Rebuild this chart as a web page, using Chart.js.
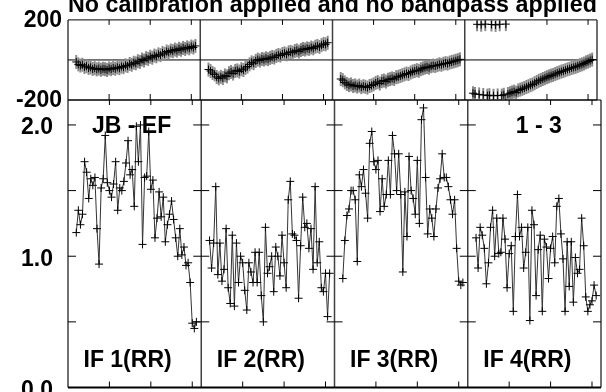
<!DOCTYPE html>
<html><head><meta charset="utf-8">
<script src="https://cdn.jsdelivr.net/npm/chart.js@4.4.1/dist/chart.umd.min.js"></script>
<style>
html,body{margin:0;padding:0;background:#fff;overflow:hidden;width:606px;height:392px;}
#wrap{position:relative;width:606px;height:392px;overflow:hidden;background:#fff;}
canvas{position:absolute;left:0;}
#ph{top:-12px;}
#am{top:88px;}
</style></head><body><div id="wrap">
<canvas id="ph" width="606" height="126"></canvas>
<canvas id="am" width="606" height="314"></canvas>
</div>
<script>
// ---------- data ----------
const titleText = 'No calibration applied and no bandpass applied';
const baselineLabel = 'JB - EF';
const sourceLabel = '1 - 3';
const ifLabels = ['IF 1(RR)', 'IF 2(RR)', 'IF 3(RR)', 'IF 4(RR)'];
const channels = [4,5,6,7,8,9,10,11,12,13,14,15,16,17,18,19,20,21,22,23,24,25,26,27,28,29,30,31,32,33,
  34,35,36,37,38,39,40,41,42,43,44,45,46,47,48,49,50,51,52,53,54,55,56,57,58,59,60,61,62];
const channelTicks = [20, 40, 60];
const phaseTicks = [-200, 200];
const ampTicks = [0, 1, 2];
const ampMinorTicks = [0.5, 1, 1.5, 2];

const ampIF1 = [1.18,1.35,1.24,1.32,1.72,1.64,1.44,1.59,1.54,1.60,
  1.21,0.94,1.52,1.59,1.92,1.56,1.50,1.45,1.55,1.72,
  1.35,1.52,1.50,1.57,1.71,1.88,1.62,1.66,1.38,1.99,
  1.72,2.00,1.09,1.60,1.61,1.95,1.51,1.58,1.14,1.29,
  1.49,1.30,1.45,1.11,1.24,1.32,1.42,1.28,1.14,1.00,
  1.21,1.01,1.07,0.93,0.95,0.80,0.49,0.45,0.50];
const ampIF2 = [1.12,0.91,1.10,1.53,0.86,1.10,0.81,0.90,1.21,0.76,
  0.64,1.16,0.62,1.10,0.80,1.00,0.95,0.74,0.59,0.95,
  0.88,0.80,1.03,0.80,1.03,0.70,0.50,1.22,0.87,0.92,
  1.00,0.73,1.07,1.00,0.85,1.16,0.95,0.76,1.43,1.57,
  1.17,1.16,1.12,0.68,1.08,1.45,1.22,1.25,1.06,1.21,
  0.90,1.53,0.95,1.11,0.76,0.73,0.87,0.54,0.87];
const ampIF3 = [0.83,1.12,1.31,1.36,1.50,1.50,1.43,0.96,1.62,1.53,
  1.66,1.48,1.29,1.86,1.95,1.72,1.66,1.73,1.34,1.59,
  1.38,1.47,1.73,1.47,1.92,1.78,1.50,1.78,1.47,0.88,
  1.49,1.15,1.76,1.50,1.44,1.32,1.73,1.25,2.04,2.13,
  1.60,1.17,1.36,1.29,1.15,1.36,1.52,1.59,1.78,1.60,
  1.60,1.53,1.43,1.32,1.43,1.06,0.81,0.78,0.80];
const ampIF4 = [1.14,0.91,1.22,1.16,1.06,0.79,0.95,1.22,1.35,1.00,
  1.29,1.02,1.03,1.29,1.13,0.76,1.02,1.08,0.58,1.15,
  1.47,1.15,1.22,0.91,1.03,1.22,0.51,1.35,1.24,0.70,
  1.05,1.16,0.58,1.13,1.07,0.83,1.06,1.15,0.95,1.38,
  1.44,1.17,0.98,0.58,1.11,0.77,1.11,0.65,0.99,0.87,
  0.90,1.29,1.08,0.69,0.58,0.63,0.66,0.78,0.70];

const phIF1 = [-10,-22,-28,-24,-35,-31,-40,-37,-45,-41,
  -47,-43,-49,-44,-46,-50,-42,-46,-40,-44,
  -37,-41,-33,-36,-27,-30,-20,-24,-14,-17,
  -6,-10,2,-3,9,5,16,11,22,18,
  28,24,35,30,42,38,47,44,52,47,
  56,51,60,55,63,58,67,62,70];
const phIF2 = [-48,-55,-65,-72,-85,-92,-84,-90,-77,-82,
  -66,-60,-68,-55,-52,-58,-46,-50,-40,-33,
  -22,-12,-16,-5,2,-3,5,2,8,4,
  10,15,12,20,25,22,30,33,28,38,
  40,36,45,48,42,50,55,52,58,55,
  62,58,66,70,65,74,80,78,86];
const phIF3 = [-95,-101,-112,-120,-126,-122,-130,-127,-133,-128,
  -136,-131,-134,-138,-130,-127,-122,-115,-110,-118,
  -106,-103,-108,-99,-96,-92,-95,-86,-84,-80,
  -76,-72,-68,-70,-63,-58,-55,-51,-54,-46,
  -42,-38,-35,-39,-31,-28,-30,-26,-22,-24,
  -19,-16,-18,-13,-10,-7,-4,-1,3];
const phIF4 = [-166,-170,178,-172,176,-175,179,-178,-176,177,
  -179,175,-177,178,-178,-174,179,-170,-166,-162,
  -158,-163,-152,-148,-144,-140,-135,-131,-126,-122,
  -116,-110,-104,-100,-95,-91,-86,-82,-78,-75,
  -70,-66,-62,-58,-55,-51,-47,-44,-40,-37,
  -34,-30,-26,-22,-18,-12,-8,-3,2];

// ---------- layout / style ----------
const P = 64.35; // channel units spanned by one IF panel
const ampSeries = [ampIF1, ampIF2, ampIF3, ampIF4];
const phSeries = [phIF1, phIF2, phIF3, phIF4];
const FONT = '"Liberation Sans", Arial, Helvetica, sans-serif';
const lblFont = {family: FONT, size: 23, weight: 'bold', lineHeight: 1};

function pts(arr, i) { return channels.map((c, k) => ({x: i * P + c, y: arr[k]})); }

function line(ctx, x1, y1, x2, y2) { ctx.beginPath(); ctx.moveTo(x1, y1); ctx.lineTo(x2, y2); ctx.stroke(); }

const framePlugin = {
  id: 'frame',
  beforeDatasetsDraw(chart, args, opts) {
    const ctx = chart.ctx, a = chart.chartArea, x = chart.scales.x, y = chart.scales.y;
    ctx.save();
    ctx.lineCap = 'butt';
    ctx.strokeStyle = '#404040'; ctx.lineWidth = 1.5;
    for (let i = 0; i <= 4; i++) { const px = x.getPixelForValue(i * P); line(ctx, px, a.top, px, a.bottom); }
    ctx.strokeStyle = '#000'; ctx.lineWidth = 1;
    line(ctx, a.left, a.top, a.right, a.top);
    ctx.lineWidth = opts.bottomWidth || 1;
    line(ctx, a.left, a.bottom, a.right, a.bottom);
    ctx.lineWidth = 1;
    if (opts.zero) { const py = y.getPixelForValue(0); line(ctx, a.left, py, a.right, py); }
    for (let i = 0; i < 4; i++) {
      for (const c of channelTicks) {
        const px = x.getPixelForValue(i * P + c);
        line(ctx, px, a.top, px, a.top + 5);
        line(ctx, px, a.bottom, px, a.bottom - 6);
      }
    }
    for (const v of (opts.yTicks || [])) {
      const py = y.getPixelForValue(v);
      for (let i = 0; i <= 4; i++) {
        const px = x.getPixelForValue(i * P);
        if (i < 4) line(ctx, px, py, px + 8, py);
        if (i > 0) line(ctx, px - 8, py, px, py);
      }
    }
    ctx.restore();
  },
  afterDatasetsDraw(chart, args, opts) {
    if (!opts.labels) return;
    const ctx = chart.ctx, a = chart.chartArea, x = chart.scales.x;
    ctx.save();
    ctx.fillStyle = '#000';
    ctx.font = 'bold 23px ' + FONT;
    ctx.textBaseline = 'alphabetic';
    ctx.textAlign = 'left';
    ctx.fillText(baselineLabel, x.getPixelForValue(0) + 24, a.top + 33);
    ctx.fillText(sourceLabel, x.getPixelForValue(3 * P) + 48, a.top + 33);
    for (let i = 0; i < 4; i++) {
      ctx.fillText(ifLabels[i], x.getPixelForValue(i * P) + 15.5, a.top + 267);
    }
    ctx.restore();
  }
};

const xScale = {type: 'linear', min: 0, max: 4 * P, display: false};
function fixAxis(s) { s.width = 68; s.paddingTop = 0; s.paddingBottom = 0; }

// ---------- phase chart ----------
const phDatasets = [];
for (let i = 0; i < 4; i++) {
  phDatasets.push({
    data: pts(phSeries[i], i), showLine: false, order: 1,
    pointStyle: 'cross', pointRadius: 4, pointBorderColor: '#000', pointBorderWidth: 1,
    pointBackgroundColor: '#000'
  });
  phDatasets.push({
    data: pts(phSeries[i], i), showLine: false, order: 2,
    pointStyle: 'line', pointRotation: 90, pointRadius: 7, pointBorderColor: '#8a8a8a', pointBorderWidth: 2
  });
}

new Chart(document.getElementById('ph'), {
  type: 'scatter',
  data: {datasets: phDatasets},
  options: {
    responsive: false, animation: false, devicePixelRatio: 1,
    events: [],
    layout: {padding: {left: 0, right: 5, top: 0, bottom: 14}},
    plugins: {
      legend: {display: false}, tooltip: {enabled: false},
      title: {display: true, text: titleText, fullSize: false, color: '#000',
        font: {family: FONT, size: 23.4, weight: 'bold', lineHeight: 1}, padding: {top: 6, bottom: 2.5}},
      frame: {zero: true, bottomWidth: 1, yTicks: []}
    },
    scales: {
      x: xScale,
      y: {type: 'linear', position: 'left', min: -200, max: 200,
        grid: {display: false, drawTicks: false}, border: {display: false},
        ticks: {padding: 6, color: '#000', font: lblFont, labelOffset: 1, callback: v => String(v)},
        afterBuildTicks: s => { s.ticks = phaseTicks.map(v => ({value: v})); },
        afterFit: fixAxis}
    }
  },
  plugins: [framePlugin]
});

// ---------- amplitude chart ----------
const amDatasets = [];
for (let i = 0; i < 4; i++) {
  amDatasets.push({
    data: pts(ampSeries[i], i), showLine: true, borderColor: '#333', borderWidth: 1, tension: 0,
    pointStyle: 'cross', pointRadius: 4, pointBorderColor: '#000', pointBorderWidth: 1,
    pointBackgroundColor: '#000'
  });
}

new Chart(document.getElementById('am'), {
  type: 'scatter',
  data: {datasets: amDatasets},
  options: {
    responsive: false, animation: false, devicePixelRatio: 1,
    events: [],
    layout: {padding: {left: 0, right: 5, top: 12, bottom: 14.5}},
    plugins: {
      legend: {display: false}, tooltip: {enabled: false}, title: {display: false},
      frame: {zero: false, bottomWidth: 2, yTicks: ampMinorTicks, labels: true}
    },
    scales: {
      x: xScale,
      y: {type: 'linear', position: 'left', min: 0, max: 2.19,
        grid: {display: false, drawTicks: false}, border: {display: false},
        ticks: {padding: 15, color: '#000', font: lblFont, labelOffset: 3, callback: v => v.toFixed(1)},
        afterBuildTicks: s => { s.ticks = ampTicks.map(v => ({value: v})); },
        afterFit: fixAxis}
    }
  },
  plugins: [framePlugin]
});
</script>
</body></html>
